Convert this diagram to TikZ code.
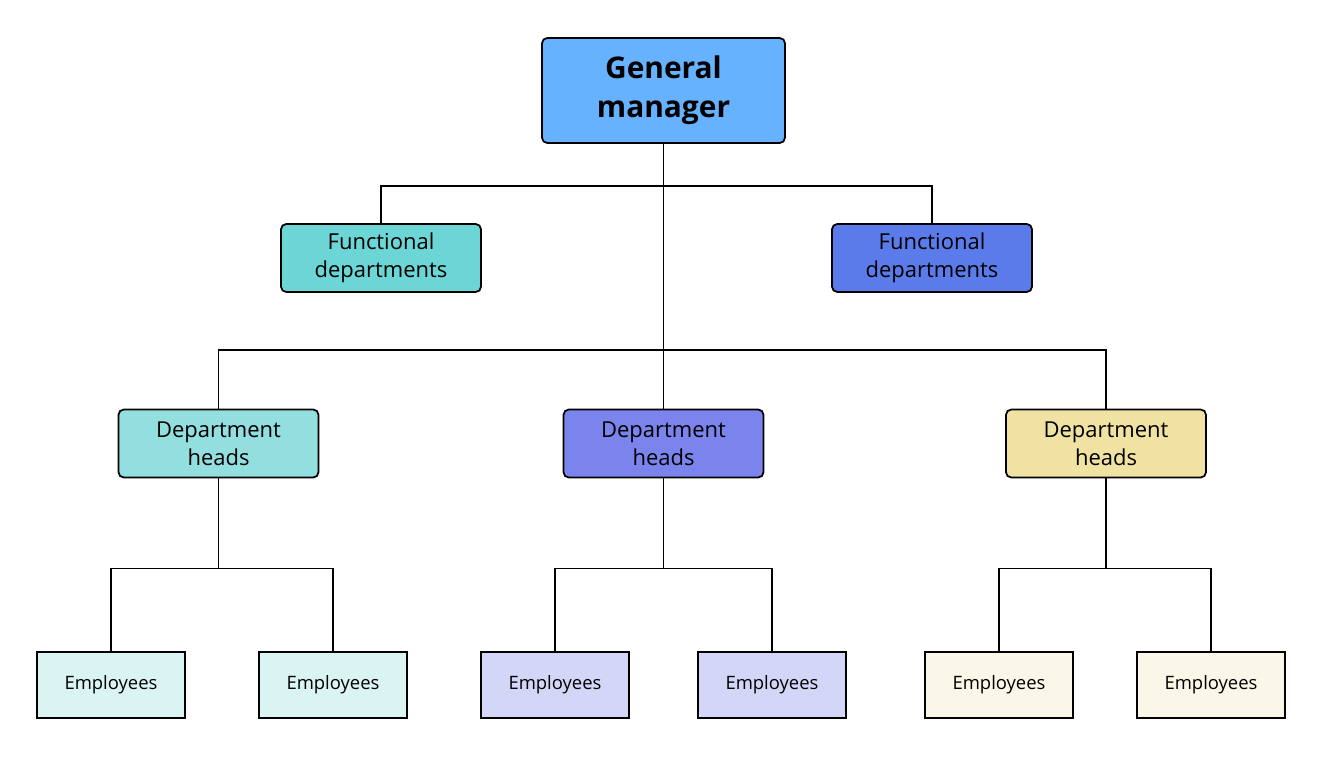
\documentclass[tikz,border=0pt]{standalone}
\usepackage{fontspec}
\setmainfont{Open Sans}
\usepackage{xcolor}
\usetikzlibrary{positioning, calc}
\definecolor{gmblue}{HTML}{66B2FF}
\definecolor{functeal}{HTML}{6CD6D6}
\definecolor{funcblue}{HTML}{5B7BEA}
\definecolor{headteal}{HTML}{93DFE0}
\definecolor{headblue}{HTML}{7B84EC}
\definecolor{headsand}{HTML}{F0E2A2}
\definecolor{empteal}{HTML}{DAF4F4}
\definecolor{empblue}{HTML}{D4D6F8}
\definecolor{empsand}{HTML}{FBF7E8}

\begin{document}
\begin{tikzpicture}[
    boss/.style={rectangle, rounded corners=3pt, draw=black, line width=1pt, fill=gmblue, minimum width=4.86cm, minimum height=2.1cm, align=center, font=\fontsize{17}{22}\selectfont\bfseries},
    dept/.style={rectangle, rounded corners=3pt, draw=black, line width=1pt, minimum width=4cm, minimum height=1.36cm, align=center, font=\fontsize{12.5}{16}\selectfont},
    emp/.style={rectangle, draw=black, line width=1pt, minimum width=2.96cm, minimum height=1.32cm, font=\fontsize{10.5}{12}\selectfont},
    link/.style={line width=1pt, color=black}
]
\useasboundingbox (0,0) rectangle (26.44,-15.12);

% Top
\node[boss] (gm) at (13.27,-1.81) {General\\manager};

% Functional departments
\node[dept, fill=functeal] (func1) at (7.62,-5.16) {Functional\\departments};
\node[dept, fill=funcblue] (func2) at (18.64,-5.16) {Functional\\departments};

% Department heads
\node[dept, fill=headteal] (head1) at (4.37,-8.87) {Department\\heads};
\node[dept, fill=headblue] (head2) at (13.27,-8.87) {Department\\heads};
\node[dept, fill=headsand] (head3) at (22.12,-8.87) {Department\\heads};

% Employees
\node[emp, fill=empteal] (emp1) at (2.22,-13.7) {Employees};
\node[emp, fill=empteal] (emp2) at (6.66,-13.7) {Employees};
\node[emp, fill=empblue] (emp3) at (11.1,-13.7) {Employees};
\node[emp, fill=empblue] (emp4) at (15.44,-13.7) {Employees};
\node[emp, fill=empsand] (emp5) at (19.98,-13.7) {Employees};
\node[emp, fill=empsand] (emp6) at (24.22,-13.7) {Employees};

% Connectors
\draw[link] (gm.south) -- ++(0,-0.84) -| (func1.north);
\draw[link] (gm.south) -- ++(0,-0.84) -| (func2.north);
\draw[link] (gm.south) -- ++(0,-4.12) -| (head1.north);
\draw[link] (gm.south) -- (head2.north);
\draw[link] (gm.south) -- ++(0,-4.12) -| (head3.north);
\foreach \h/\a/\b in {head1/emp1/emp2, head2/emp3/emp4, head3/emp5/emp6} {
  \draw[link] (\h.south) -- ++(0,-1.8) -| (\a.north);
  \draw[link] (\h.south) -- ++(0,-1.8) -| (\b.north);
}
\end{tikzpicture}
\end{document}
